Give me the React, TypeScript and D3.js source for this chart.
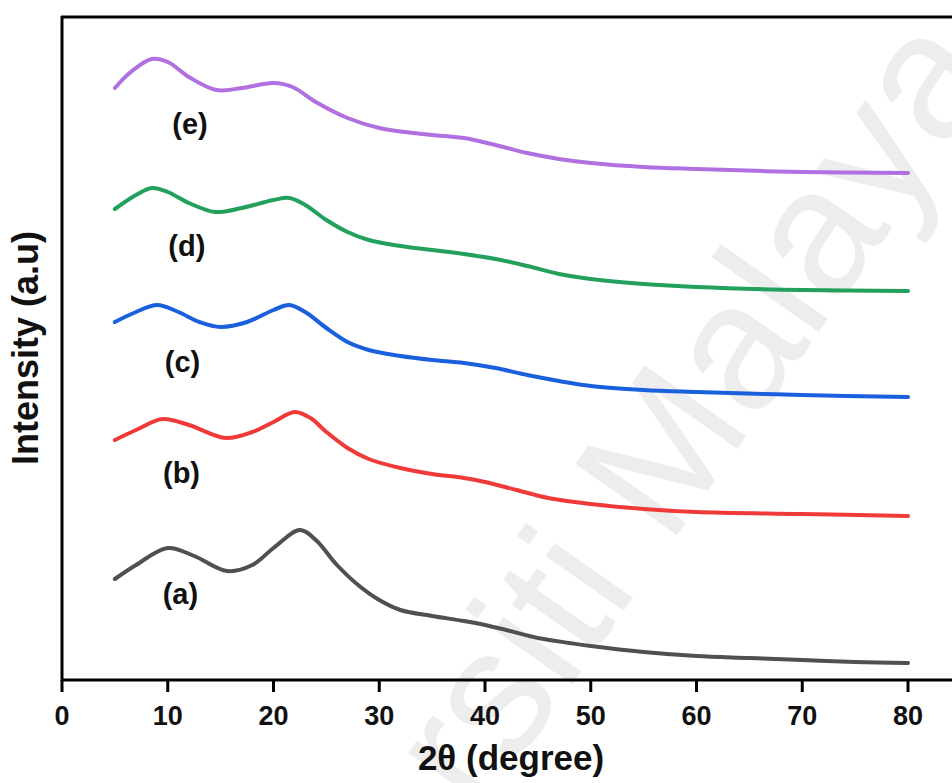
import React from 'react';
import * as d3 from 'd3';

const xTicks = [0, 10, 20, 30, 40, 50, 60, 70, 80];

const xA = [5, 7, 10, 12.5, 15.6, 18, 20, 22.5, 24, 26, 28, 30, 32, 35, 38, 40, 42, 45, 48, 50, 55, 60, 65, 70, 75, 80];
const yA = [101, 115, 132, 124, 109, 115, 132, 150, 140, 115, 95, 80, 70, 64, 59, 55, 50, 42, 37, 34, 28, 24, 22, 20, 18, 17];

const xB = [5, 7, 9.5, 12, 15.5, 18, 20, 22, 23.5, 25, 27, 29, 32, 35, 38, 40, 43, 46, 50, 55, 60, 70, 80];
const yB = [240, 250, 261, 255, 242, 248, 258, 268, 262, 248, 232, 221, 212, 206, 202, 198, 190, 182, 176, 171, 168, 166, 164];

const xC = [5, 7, 9, 11, 13, 15, 17.5, 20, 21.5, 23, 25, 27, 29, 32, 35, 38, 41, 44, 47, 50, 55, 60, 70, 80];
const yC = [358, 368, 375, 368, 358, 353, 358, 370, 375, 368, 352, 338, 330, 324, 320, 317, 312, 305, 299, 294, 290, 288, 285, 283];

const xD = [5, 7, 8.5, 10, 12, 14.5, 17, 20, 21.5, 23, 25, 27, 29, 32, 35, 38, 41, 44, 47, 50, 55, 60, 70, 80];
const yD = [471, 485, 492, 488, 477, 468, 472, 480, 482, 475, 460, 448, 440, 434, 430, 426, 421, 414, 406, 401, 396, 393, 390, 389];

const xE = [5, 6.5, 8.5, 10, 12, 14.6, 17, 20, 21.8, 24, 27, 30, 34, 38, 41, 44, 47, 50, 55, 60, 70, 80];
const yE = [592, 608, 621, 618, 603, 590, 592, 597, 593, 578, 562, 552, 546, 542, 535, 527, 521, 517, 513, 511, 508, 507];

const labels = ['(a)', '(b)', '(c)', '(d)', '(e)'];
const labelX = [11.2, 11.3, 11.4, 11.8, 12.1];
const labelY = [86, 207, 318, 434, 556];
const colors = ['#505050', '#f03a3a', '#1a5fdc', '#22a05c', '#b070e0'];

const xsAll = [xA, xB, xC, xD, xE];
const ysAll = [yA, yB, yC, yD, yE];

export default function App() {
  const W = 952, H = 783;
  const x = d3.scaleLinear().domain([0, 80]).range([62, 908]);
  const y = d3.scaleLinear().domain([0, 663]).range([680, 17]);
  const line = d3.line<[number, number]>()
    .x(d => x(d[0]))
    .y(d => y(d[1]))
    .curve(d3.curveCatmullRom.alpha(0.5));
  const font = 'Arial, "Liberation Sans", Helvetica, sans-serif';

  return (
    <svg width={W} height={H} style={{ position: 'absolute', left: 0, top: 0, background: '#fff' }}
      fontFamily={font}>
      <rect x={0} y={0} width={W} height={H} fill="#fff" />
      <text x={557} y={597} fontSize={180} fill="#ededed" textAnchor="middle" dominantBaseline="central"
        transform="rotate(-55 557 597)">Universiti Malaya</text>
      {xsAll.map((xs, i) => (
        <path key={i} d={line(xs.map((v, j) => [v, ysAll[i][j]] as [number, number])) || ''}
          fill="none" stroke={colors[i]} strokeWidth={4} strokeLinejoin="round" strokeLinecap="round" />
      ))}
      {labels.map((l, i) => (
        <text key={l} x={x(labelX[i])} y={y(labelY[i])} fontSize={29} fontWeight="bold" fill="#111"
          textAnchor="middle" dominantBaseline="central">{l}</text>
      ))}
      <line x1={62} x2={62} y1={16} y2={681} stroke="#000" strokeWidth={3} />
      <line x1={61} x2={W} y1={17} y2={17} stroke="#000" strokeWidth={3} />
      <line x1={61} x2={W} y1={680} y2={680} stroke="#000" strokeWidth={3} />
      {xTicks.map(t => (
        <g key={t}>
          <line x1={x(t)} x2={x(t)} y1={680} y2={692} stroke="#000" strokeWidth={3} />
          <text x={x(t)} y={725} fontSize={27} fontWeight="bold" textAnchor="middle" fill="#111">{t}</text>
        </g>
      ))}
      <text x={511} y={770} fontSize={35} fontWeight="bold" textAnchor="middle" fill="#111">2θ (degree)</text>
      <text x={0} y={0} fontSize={36} fontWeight="bold" textAnchor="middle" fill="#111"
        transform="translate(38 348) rotate(-90)">Intensity (a.u)</text>
    </svg>
  );
}
